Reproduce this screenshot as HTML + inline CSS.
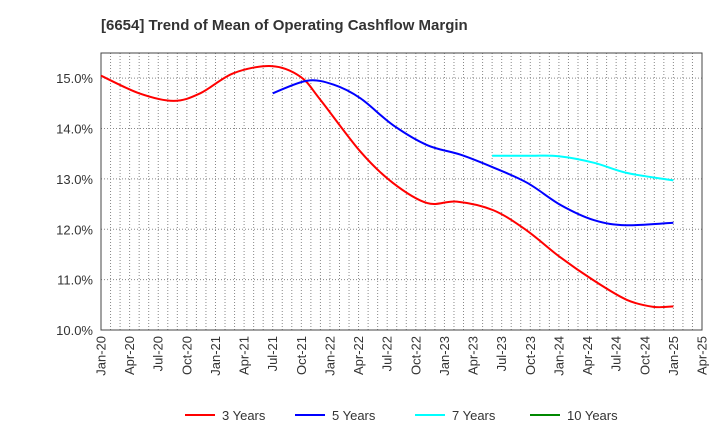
<!DOCTYPE html>
<html><head><meta charset="utf-8"><style>
body{margin:0;background:#fff;}
svg text{font-family:"Liberation Sans",sans-serif;fill:#333;}
</style></head><body>
<svg id="c" width="720" height="440">
<text x="101" y="30" font-size="15" font-weight="bold">[6654]  Trend of Mean of Operating Cashflow Margin</text>
<g id="grid"></g><g id="axes"></g><g id="series"></g><g id="legend"></g>
</svg>
<script>
const xLabels=["Jan-20","Apr-20","Jul-20","Oct-20","Jan-21","Apr-21","Jul-21","Oct-21","Jan-22","Apr-22","Jul-22","Oct-22","Jan-23","Apr-23","Jul-23","Oct-23","Jan-24","Apr-24","Jul-24","Oct-24","Jan-25","Apr-25"];
const yTicks=[10,11,12,13,14,15];
const m3=[0,4,7.6,10.4,13.9,17.9,20.9,23,27.2,30.6,34.2,37.3,41.1,44.6,48.1,51.6,55.1,57.9,60];
const v3=[15.05,14.70,14.55,14.70,15.10,15.24,15.03,14.57,13.54,12.92,12.52,12.55,12.38,11.98,11.45,10.99,10.60,10.46,10.47];
const m5=[18,21.6,24.4,27.2,30.6,34.2,37.7,41.2,44.7,48.2,51.7,55.1,60];
const v5=[14.70,14.95,14.87,14.60,14.07,13.67,13.48,13.22,12.92,12.48,12.18,12.08,12.13];
const m7=[41,45,48,51.7,55.1,60];
const v7=[13.46,13.46,13.45,13.32,13.12,12.97];
const m10=[];const v10=[];
const NS="http://www.w3.org/2000/svg";
const L=101,R=702,T=53,B=330,ymin=10,ymax=15.5,mPx=(R-L)/63;
const X=m=>L+m*mPx, Y=v=>B-(v-ymin)/(ymax-ymin)*(B-T);
function mk(tag,at,parent){const e=document.createElementNS(NS,tag);for(const k in at)e.setAttribute(k,at[k]);parent.appendChild(e);return e;}
const grid=document.getElementById('grid'),axes=document.getElementById('axes'),ser=document.getElementById('series'),leg=document.getElementById('legend');
for(let m=1;m<63;m++){const l=mk('line',{x1:X(m),x2:X(m),y1:T,y2:B,stroke:'#888','stroke-dasharray':'1,2','stroke-width':1},grid);

}
yTicks.forEach(v=>{const l=mk('line',{x1:L,x2:R,y1:Y(v),y2:Y(v),stroke:'#888','stroke-dasharray':'1,2','stroke-width':1},grid);


const t=mk('text',{x:L-8,y:Y(v)+5,'text-anchor':'end','font-size':13},axes);t.textContent=v.toFixed(1)+'%';

});
xLabels.forEach((s,i)=>{const x=X(i*3);const t=mk('text',{transform:`translate(${x+4.5},${B+6}) rotate(-90)`,'text-anchor':'end','font-size':13},axes);t.textContent=s;

});
const frame=mk('rect',{x:L,y:T,width:R-L,height:B-T,fill:'none',stroke:'#444','stroke-width':1},axes);


function path(ms,vs){const p=ms.map((m,i)=>[X(m),Y(vs[i])]);if(p.length<2)return '';let d=`M${p[0][0]},${p[0][1]}`;
for(let i=0;i<p.length-1;i++){const p0=p[i-1]||p[i],p1=p[i],p2=p[i+1],p3=p[i+2]||p2;
d+=` C${p1[0]+(p2[0]-p0[0])/6},${p1[1]+(p2[1]-p0[1])/6} ${p2[0]-(p3[0]-p1[0])/6},${p2[1]-(p3[1]-p1[1])/6} ${p2[0]},${p2[1]}`;}return d;}
const S=[["3 Years","#f00",m3,v3,185],["5 Years","#00f",m5,v5,295],["7 Years","#0ff",m7,v7,415],["10 Years","#080",m10,v10,530]];
S.forEach(([n,c,ms,vs,lx])=>{const d=path(ms,vs);if(d){const p=mk('path',{d,fill:'none',stroke:c,'stroke-width':2},ser);

}
const g=mk('g',{},leg);


mk('line',{x1:lx,x2:lx+30,y1:415,y2:415,stroke:c,'stroke-width':2},g);
const t=mk('text',{x:lx+37,y:420,'font-size':13},g);t.textContent=n;});
</script>
</body></html>
